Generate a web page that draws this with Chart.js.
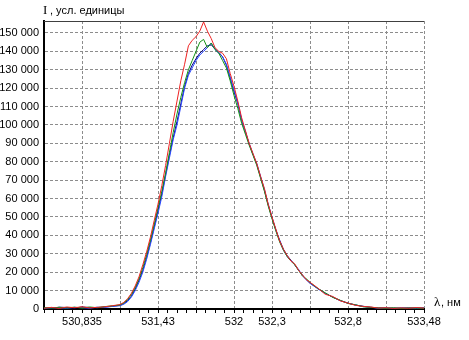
<!DOCTYPE html>
<html>
<head>
<meta charset="utf-8">
<script src="https://cdn.jsdelivr.net/npm/chart.js@4"></script>
<style>
  html, body { margin: 0; padding: 0; background: #fff; }
  #wrap { width: 469px; height: 340px; position: relative; }
</style>
</head>
<body>
<div id="wrap"><canvas id="spectrum"></canvas></div>
<script>
// positions along the x axis, in grid divisions (0..10)
const xPos = [
    0, 0.2, 0.4, 0.6, 0.8, 1.0, 1.2, 1.4, 1.6, 1.8,
    2.0, 2.1, 2.2, 2.3, 2.4, 2.5, 2.6, 2.7, 2.8, 2.9,
    3.0, 3.1, 3.2, 3.3, 3.4, 3.5, 3.6, 3.7, 3.8, 3.9,
    4.0, 4.1, 4.2, 4.3, 4.4, 4.5, 4.6, 4.7, 4.8, 4.9,
    5.0, 5.1, 5.2, 5.3, 5.4, 5.5, 5.6, 5.7, 5.8, 5.9,
    6.0, 6.1, 6.2, 6.3, 6.4, 6.5, 6.6, 6.7, 6.8, 6.9,
    7.0,
    7.2, 7.4, 7.6, 7.8, 8.0, 8.2, 8.4, 8.6, 8.8, 9.0, 9.2, 9.4, 9.6, 9.8, 10.0
];

// wavelength labels under the grid lines
const xTickLabels = [ '', '530,835', '', '531,43', '', '532', '532,3', '', '532,8', '', '533,48' ];

// intensity ticks
const yTickValues = [ 0, 10000, 20000, 30000, 40000, 50000, 60000, 70000, 80000,
    90000, 100000, 110000, 120000, 130000, 140000, 150000 ];

const redSeries = [
    400, 900, 300, 1100, 700, 1200, 600, 900, 1200, 1800,
    2400, 3600, 5600, 8500, 12500, 17500, 24000, 31000, 39000, 48000,
    57000, 67000, 78000, 90000, 102000, 113000, 124000, 133000, 143000, 146000,
    148000, 151000, 156000, 151000, 147000, 142000, 140000, 139000, 136000, 128000,
    121000, 113000, 104000, 97000, 90000, 84500, 79000, 72000, 65500, 57000,
    50000, 43500, 37000, 32500, 29000, 26000, 24500, 21000, 18500, 16000,
    14500,
    11500, 8000, 6800, 4400, 3200, 2000, 1400, 1100, 500, 700, 300, 600, 400, 800, 500
];

const greenSeries = [
    700, 500, 900, 600, 1000, 500, 1100, 700, 1300, 1700,
    2200, 3300, 5100, 7900, 11600, 16400, 22500, 29500, 37500, 46000,
    55000, 64000, 74000, 85000, 96000, 106000, 115000, 123000, 130000, 135000,
    140000, 145000, 146500, 142000, 144500, 141000, 139000, 135000, 131000, 124000,
    116000, 109000, 101000, 95000, 89000, 83500, 78000, 71000, 64000, 56000,
    49000, 42500, 36500, 32000, 28500, 26000, 24000, 21000, 18000, 16500,
    14500,
    11200, 8800, 6300, 4700, 3000, 2300, 1200, 900, 600, 400, 700, 300, 600, 500, 400
];

const blueSeries = [
    300, 700, 600, 400, 900, 700, 400, 1000, 900, 1400,
    1800, 2600, 4000, 6500, 10000, 14500, 20000, 27000, 35000, 43500,
    52000, 61000, 72000, 82000, 92000, 100000, 110000, 120000, 127000, 131000,
    135000, 138000, 140000, 142000, 144500, 141000, 139000, 137000, 133000, 126000,
    119000, 112000, 103000, 96000, 90000, 84000, 79000, 72000, 65000, 57000,
    50000, 43000, 37000, 32000, 28500, 26000, 24000, 21500, 18000, 16000,
    14000,
    11000, 8500, 6500, 4500, 3100, 2200, 1300, 1000, 400, 600, 500, 400, 700, 300, 600
];

const navySeries = [
    600, 400, 1000, 800, 500, 1100, 800, 600, 1100, 1500,
    2000, 2900, 4500, 7000, 10800, 15500, 21000, 28000, 36000, 44500,
    53500, 62500, 73000, 83500, 93000, 102000, 111500, 121000, 128000, 132500,
    136000, 139000, 141000, 143000, 143500, 141500, 139500, 137000, 132500, 125500,
    118000, 111500, 102500, 96500, 89500, 84000, 78500, 71500, 64500, 56500,
    49500, 43000, 37500, 32500, 29000, 26500, 24000, 21000, 18500, 16000,
    14000,
    11300, 8600, 6400, 4600, 3200, 2100, 1500, 800, 600, 500, 300, 600, 400, 600, 500
];

const yMax = 156500;

function toPoints ( ys )
{
    return ys.map( ( y, i ) => ( { x: xPos[ i ], y } ) );
}

function lineSet ( data, color )
{
    return {
        data: toPoints( data ),
        borderColor: color,
        borderWidth: 1,
        pointRadius: 0,
        tension: 0,
        fill: false
    };
}

function groupThousands ( val )
{
    return String( val ).replace( /\B(?=(\d{3})+(?!\d))/g, ' ' );
}

const axisText = {
    id: 'axis-text',
    afterDraw ( chart )
    {
        const { ctx, chartArea } = chart;
        ctx.save();
        // top frame
        ctx.strokeStyle = '#404040';
        ctx.lineWidth = 1;
        ctx.beginPath();
        ctx.moveTo( chartArea.left, chartArea.top + 0.5 );
        ctx.lineTo( chartArea.right, chartArea.top + 0.5 );
        ctx.stroke();

        ctx.fillStyle = '#000';
        ctx.textBaseline = 'alphabetic';
        ctx.font = '13px "Liberation Serif", serif';
        ctx.fillText( 'I', 43, 14 );
        ctx.font = '11px "Liberation Sans", Arial, sans-serif';
        ctx.fillText( ', усл. единицы', 50, 14 );

        ctx.font = '13px "Liberation Serif", serif';
        ctx.fillText( 'λ', 434, 306 );
        ctx.font = '11px "Liberation Sans", Arial, sans-serif';
        ctx.fillText( ', нм', 441, 306 );
        ctx.restore();
    }
};

new Chart( document.getElementById( 'spectrum' ), {
    type: 'line',
    data: {
        datasets: [
            lineSet( redSeries, '#ee2222' ),
            lineSet( greenSeries, '#129212' ),
            lineSet( blueSeries, '#2a48ff' ),
            lineSet( navySeries, '#000080' )
        ]
    },
    options: {
        responsive: true,
        maintainAspectRatio: false,
        animation: false,
        layout: { padding: { top: 21, right: 45, left: 0, bottom: 0 } },
        plugins: {
            legend: { display: false },
            tooltip: { enabled: false }
        },
        scales: {
            x: {
                type: 'linear',
                min: 0,
                max: 10,
                afterFit: scale => { scale.height = 31; },
                afterBuildTicks: scale =>
                {
                    const ticks = [];
                    for ( let i = 0; i <= 40; i++ ) ticks.push( { value: i / 4 } );
                    scale.ticks = ticks;
                },
                ticks: {
                    autoSkip: false,
                    maxRotation: 0,
                    padding: 2,
                    color: '#000',
                    font: { family: '"Liberation Sans", Arial, sans-serif', size: 11 },
                    callback: val => Number.isInteger( val ) ? xTickLabels[ val ] : ''
                },
                grid: {
                    color: c => ( c.tick && Number.isInteger( c.tick.value ) ) ? '#8c8c8c' : 'rgba(0,0,0,0)',
                    tickColor: '#000',
                    tickLength: 4,
                    lineWidth: 1
                },
                border: { color: '#000', width: 2, dash: [ 3, 2 ] }
            },
            y: {
                min: 0,
                max: yMax,
                afterFit: scale => { scale.width = 44; },
                afterBuildTicks: scale =>
                {
                    scale.ticks = yTickValues.map( value => ( { value } ) );
                },
                ticks: {
                    autoSkip: false,
                    padding: 5,
                    color: '#000',
                    font: { family: '"Liberation Sans", Arial, sans-serif', size: 11 },
                    callback: val => groupThousands( val )
                },
                grid: {
                    color: '#8c8c8c',
                    drawTicks: false,
                    lineWidth: 1
                },
                border: { color: '#000', width: 2, dash: [ 3, 2 ] }
            }
        }
    },
    plugins: [ axisText ]
} );
</script>
</body>
</html>
